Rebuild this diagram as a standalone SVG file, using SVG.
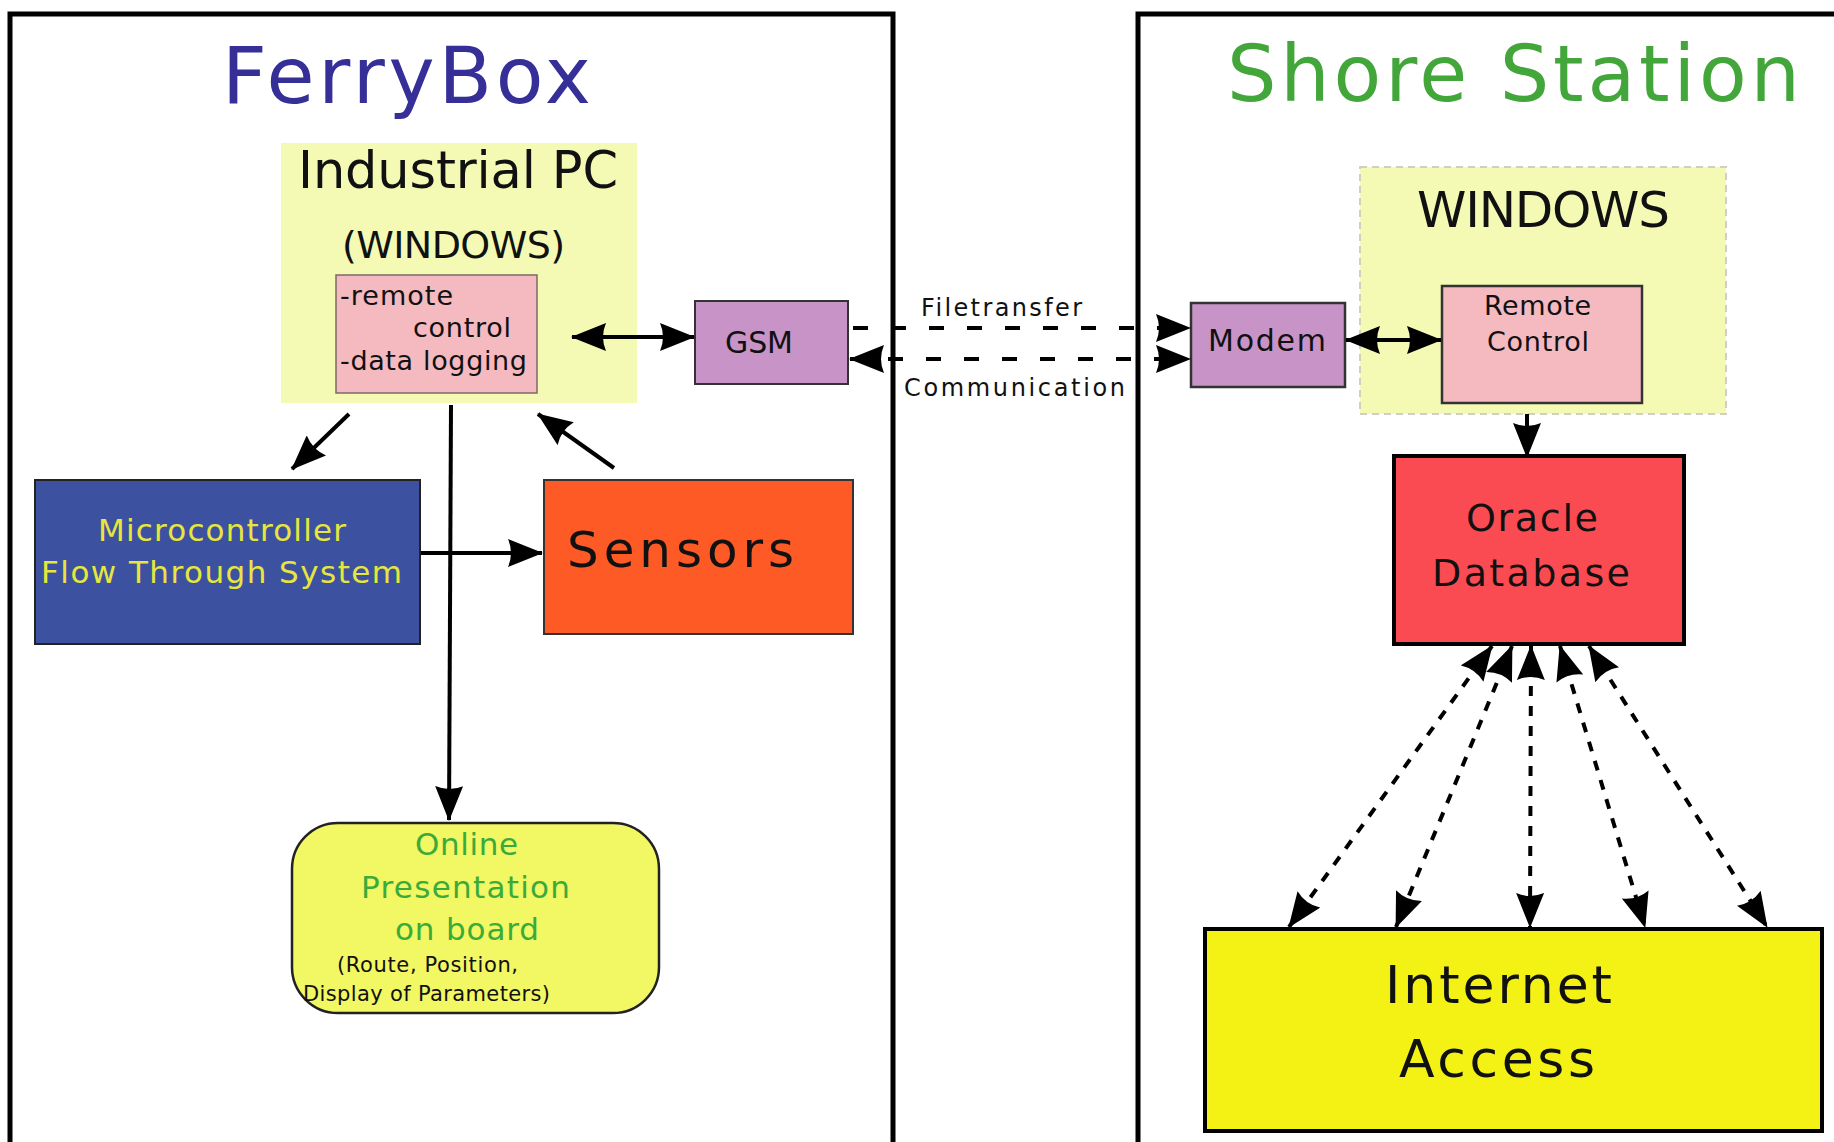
<svg xmlns="http://www.w3.org/2000/svg" width="1834" height="1142" viewBox="0 0 1834 1142">
<style>
text{font-family:"DejaVu Sans","Liberation Sans",sans-serif;fill:#111}
.frame{fill:#fff;stroke:#000;stroke-width:5}
.solid{stroke:#000;stroke-width:4;fill:none}
.dash{stroke:#000;stroke-width:4;fill:none;stroke-dasharray:15 23}
.dot{stroke:#000;stroke-width:4;fill:none;stroke-dasharray:10 10}
</style>
<defs>
<marker id="ah" markerUnits="userSpaceOnUse" markerWidth="36" markerHeight="28" viewBox="0 0 36 28" refX="34" refY="14" orient="auto-start-reverse">
<path d="M0,0 L35,14 L0,28 Q6,14 0,0 z" fill="#000"/>
</marker>
</defs>
<rect width="1834" height="1142" fill="#fff"/>
<g id="ferrybox">
<rect class="frame" x="10" y="14" width="883" height="1140"/>
<text x="222" y="103" font-size="78" textLength="369" lengthAdjust="spacing" style="fill:#352f97">FerryBox</text>
</g>
<g id="shore-station">
<rect class="frame" x="1138" y="14" width="720" height="1140"/>
<text x="1227" y="101" font-size="78" textLength="573" lengthAdjust="spacing" style="fill:#43a63b">Shore Station</text>
</g>
<g id="industrial-pc">
<rect x="281" y="143" width="356" height="260" fill="#f4fab4"/>
<text x="298" y="188" font-size="51" textLength="320" lengthAdjust="spacing">Industrial PC</text>
<text x="342" y="258" font-size="38" textLength="223" lengthAdjust="spacing">(WINDOWS)</text>
</g>
<g id="pc-tasks">
<rect x="336" y="275" width="201" height="118" fill="#f5b9c0" stroke="#7a6a6a" stroke-width="1.5"/>
<text x="340" y="305" font-size="27" textLength="113" lengthAdjust="spacing">-remote</text>
<text x="413" y="337" font-size="27" textLength="98" lengthAdjust="spacing">control</text>
<text x="340" y="370" font-size="27" textLength="187" lengthAdjust="spacing">-data logging</text>
</g>
<g id="gsm">
<rect x="695" y="301" width="153" height="83" fill="#c894c8" stroke="#333" stroke-width="2"/>
<text x="725" y="353" font-size="30" textLength="68" lengthAdjust="spacing">GSM</text>
</g>
<g id="microcontroller">
<rect x="35" y="480" width="385" height="164" fill="#3c52a0" stroke="#222" stroke-width="2"/>
<text x="98" y="541" font-size="31" textLength="248" lengthAdjust="spacing" style="fill:#e8e63c">Microcontroller</text>
<text x="41" y="583" font-size="31" textLength="361" lengthAdjust="spacing" style="fill:#e8e63c">Flow Through System</text>
</g>
<g id="sensors">
<rect x="544" y="480" width="309" height="154" fill="#fe5a26" stroke="#333" stroke-width="2"/>
<text x="567" y="567" font-size="50" textLength="227" lengthAdjust="spacing">Sensors</text>
</g>
<g id="online-presentation">
<rect x="292" y="823" width="367" height="190" rx="46" ry="46" fill="#f2f764" stroke="#222" stroke-width="2.5"/>
<text x="415" y="855" font-size="31" textLength="103" lengthAdjust="spacing" style="fill:#3aab3a">Online</text>
<text x="361" y="898" font-size="31" textLength="209" lengthAdjust="spacing" style="fill:#3aab3a">Presentation</text>
<text x="395" y="940" font-size="31" textLength="144" lengthAdjust="spacing" style="fill:#3aab3a">on board</text>
<text x="337" y="972" font-size="21" textLength="181" lengthAdjust="spacing">(Route, Position,</text>
<text x="303" y="1001" font-size="21" textLength="247" lengthAdjust="spacing">Display of Parameters)</text>
</g>
<g id="windows">
<rect x="1360" y="167" width="366" height="247" fill="#f4fab4" stroke="#d0d0c0" stroke-width="2" stroke-dasharray="7 5"/>
<text x="1417" y="227" font-size="50" textLength="253" lengthAdjust="spacing">WINDOWS</text>
</g>
<g id="modem">
<rect x="1191" y="303" width="154" height="84" fill="#c894c8" stroke="#333" stroke-width="2.5"/>
<text x="1208" y="351" font-size="30" textLength="118" lengthAdjust="spacing">Modem</text>
</g>
<g id="remote-control">
<rect x="1442" y="286" width="200" height="117" fill="#f5b9c0" stroke="#333" stroke-width="2.5"/>
<text x="1484" y="315" font-size="27" textLength="107" lengthAdjust="spacing">Remote</text>
<text x="1487" y="351" font-size="27" textLength="102" lengthAdjust="spacing">Control</text>
</g>
<g id="oracle-database">
<rect x="1394" y="456" width="290" height="188" fill="#fb4b52" stroke="#000" stroke-width="4"/>
<text x="1466" y="531" font-size="38" textLength="132" lengthAdjust="spacing">Oracle</text>
<text x="1432" y="586" font-size="38" textLength="198" lengthAdjust="spacing">Database</text>
</g>
<g id="internet-access">
<rect x="1205" y="929" width="617" height="202" fill="#f4f214" stroke="#000" stroke-width="4"/>
<text x="1385" y="1003" font-size="52" textLength="227" lengthAdjust="spacing">Internet</text>
<text x="1399" y="1077" font-size="52" textLength="196" lengthAdjust="spacing">Access</text>
</g>
<g id="connectors">
<line class="solid" x1="572" y1="337" x2="694" y2="337" marker-start="url(#ah)" marker-end="url(#ah)"/>
<line class="solid" x1="349" y1="414" x2="292" y2="469" marker-end="url(#ah)"/>
<line class="solid" x1="451" y1="405" x2="449" y2="820" marker-end="url(#ah)"/>
<line class="solid" x1="614" y1="468" x2="538" y2="414" marker-end="url(#ah)"/>
<line class="solid" x1="421" y1="553" x2="542" y2="553" marker-end="url(#ah)"/>
<line class="dash" x1="853" y1="328" x2="1190" y2="328" marker-end="url(#ah)"/>
<line class="dash" x1="850" y1="359" x2="1190" y2="359" marker-start="url(#ah)" marker-end="url(#ah)"/>
<text x="921" y="316" font-size="24" textLength="161" lengthAdjust="spacing">Filetransfer</text>
<text x="904" y="396" font-size="24" textLength="221" lengthAdjust="spacing">Communication</text>
<line class="solid" x1="1346" y1="340" x2="1441" y2="340" marker-start="url(#ah)" marker-end="url(#ah)"/>
<line class="solid" x1="1527" y1="414" x2="1527" y2="457" marker-end="url(#ah)"/>
<line class="dot" x1="1492" y1="646" x2="1289" y2="927" marker-start="url(#ah)" marker-end="url(#ah)"/>
<line class="dot" x1="1512" y1="646" x2="1396" y2="927" marker-start="url(#ah)" marker-end="url(#ah)"/>
<line class="dot" x1="1531" y1="646" x2="1530" y2="927" marker-start="url(#ah)" marker-end="url(#ah)"/>
<line class="dot" x1="1560" y1="646" x2="1645" y2="927" marker-start="url(#ah)" marker-end="url(#ah)"/>
<line class="dot" x1="1589" y1="646" x2="1767" y2="927" marker-start="url(#ah)" marker-end="url(#ah)"/>
</g>
</svg>
